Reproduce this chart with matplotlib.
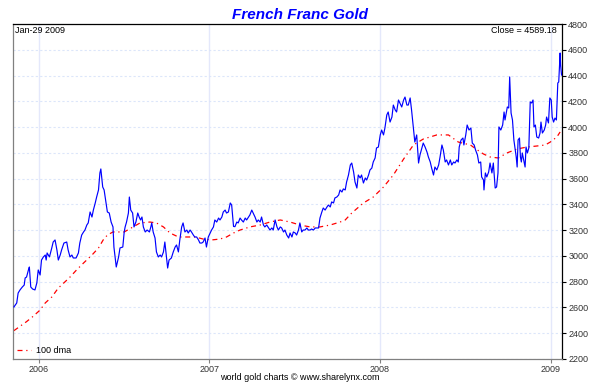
import pandas as pd
import matplotlib
matplotlib.use('Agg')
import matplotlib.pyplot as plt
import matplotlib.dates as mdates

plt.rcParams['font.family'] = ['Liberation Sans', 'DejaVu Sans']

# gold price in French Francs, days counted from the chart start
start = pd.Timestamp('2005-11-07')
price_days = [
    2, 8, 11, 15, 20, 24, 26, 29, 33, 35, 38, 42, 47, 51, 54, 58, 61, 65, 69, 71,
    73, 78, 83, 86, 90, 94, 97, 101, 104, 109, 115, 118, 122, 126, 129, 135, 140, 143, 147, 151,
    154, 158, 161, 165, 169, 172, 176, 179, 183, 186, 188, 192, 195, 199, 202, 206, 210, 214, 216, 221,
    226, 229, 235, 238, 240, 243, 247, 249, 252, 256, 259, 263, 267, 270, 273, 276, 279, 283, 287, 292,
    295, 297, 300, 304, 307, 311, 315, 318, 322, 325, 329, 331, 334, 339, 343, 347, 350, 354, 357, 361,
    364, 368, 372, 375, 379, 382, 386, 389, 393, 397, 400, 404, 407, 411, 414, 418, 422, 425, 429, 432,
    436, 440, 443, 447, 450, 454, 457, 461, 465, 468, 472, 475, 479, 482, 486, 489, 493, 497, 500, 504,
    507, 511, 514, 518, 522, 525, 529, 532, 536, 539, 543, 547, 550, 554, 557, 561, 565, 568, 572, 575,
    579, 582, 586, 590, 593, 597, 600, 604, 607, 611, 614, 618, 621, 625, 629, 632, 636, 639, 643, 647,
    650, 654, 657, 661, 664, 668, 672, 675, 679, 682, 686, 689, 693, 697, 700, 704, 707, 711, 714, 718,
    722, 725, 729, 732, 736, 739, 743, 746, 750, 754, 757, 761, 764, 768, 771, 775, 778, 782, 786, 789,
    793, 796, 800, 803, 807, 811, 814, 818, 821, 825, 828, 832, 836, 839, 843, 846, 850, 853, 857, 860,
    864, 868, 871, 875, 878, 882, 886, 889, 893, 896, 900, 903, 907, 911, 914, 918, 921, 925, 928, 932,
    936, 939, 943, 946, 950, 953, 955, 959, 963, 965, 969, 972, 976, 980, 983, 987, 990, 994, 997, 1001,
    1003, 1007, 1008, 1011, 1014, 1018, 1021, 1025, 1028, 1032, 1035, 1038, 1040, 1044, 1048, 1051, 1053, 1056, 1058, 1061,
    1063, 1066, 1069, 1072, 1075, 1077, 1079, 1081, 1084, 1086, 1088, 1090, 1093, 1096, 1098, 1101, 1104, 1107, 1110, 1113,
    1115, 1118, 1121, 1125, 1128, 1130, 1133, 1137, 1140, 1142, 1146, 1149, 1152, 1154, 1157, 1160, 1163, 1166, 1168, 1171,
    1172, 1174,
]
price = [
    2604, 2635, 2712, 2736, 2759, 2774, 2829, 2836, 2891, 2914, 2759, 2743, 2736, 2790, 2891, 2852, 2968, 2992, 3007, 2968,
    3023, 2992, 3062, 3108, 3124, 3046, 2968, 3007, 3046, 3100, 3108, 3046, 2992, 3007, 2984, 2984, 3023, 3100, 3162, 3186,
    3201, 3240, 3256, 3341, 3302, 3356, 3411, 3457, 3512, 3644, 3675, 3535, 3512, 3411, 3341, 3333, 3263, 3225, 3069, 2914,
    2992, 3062, 3069, 3186, 3225, 3263, 3333, 3457, 3356, 3333, 3225, 3263, 3333, 3302, 3279, 3302, 3225, 3186, 3201, 3186,
    3225, 3256, 3186, 3139, 3031, 2992, 3007, 2992, 3031, 3108, 2968, 2906, 2968, 2984, 3031, 3069, 3085, 3031, 3124, 3225,
    3256, 3186, 3201, 3178, 3201, 3186, 3162, 3147, 3147, 3124, 3100, 3100, 3108, 3139, 3069, 3147, 3178, 3201, 3225, 3279,
    3263, 3294, 3279, 3302, 3341, 3356, 3333, 3341, 3411, 3395, 3229, 3227, 3263, 3256, 3294, 3279, 3263, 3294, 3279, 3302,
    3318, 3356, 3333, 3302, 3263, 3279, 3263, 3302, 3240, 3225, 3240, 3217, 3201, 3217, 3201, 3279, 3225, 3201, 3225, 3217,
    3186, 3201, 3162, 3139, 3178, 3147, 3186, 3178, 3162, 3201, 3256, 3186, 3201, 3201, 3217, 3201, 3201, 3209, 3201, 3217,
    3217, 3217, 3294, 3341, 3372, 3356, 3380, 3395, 3380, 3419, 3411, 3450, 3457, 3473, 3512, 3496, 3520, 3512, 3574, 3628,
    3706, 3721, 3651, 3574, 3527, 3628, 3605, 3628, 3566, 3605, 3589, 3628, 3667, 3682, 3729, 3760, 3838, 3845, 3939, 3977,
    3939, 3993, 4094, 4117, 4039, 4078, 4171, 4133, 4117, 4210, 4187, 4156, 4210, 4233, 4171, 4171, 4226, 4133, 3993, 3884,
    3939, 3721, 3783, 3838, 3876, 3845, 3807, 3768, 3729, 3682, 3628, 3690, 3667, 3706, 3768, 3861, 3822, 3729, 3745, 3706,
    3745, 3706, 3729, 3721, 3745, 3729, 3845, 3900, 3915, 3861, 3939, 4016, 3977, 3993, 3876, 3861, 3822, 3783, 3721, 3729,
    3613, 3589, 3512, 3644, 3613, 3651, 3721, 3644, 3721, 3527, 3535, 3644, 4001, 3977, 4016, 4117, 4055, 4117, 4156, 4148,
    4389, 4109, 4055, 3900, 3822, 3768, 3690, 3900, 3915, 3768, 3729, 3799, 3745, 3690, 3845, 3799, 3838, 4195, 4187, 4210,
    4001, 4016, 3923, 3915, 3954, 4039, 3954, 3977, 4016, 4078, 4032, 4226, 4210, 4078, 4039, 4070, 4055, 4342, 4350, 4575,
    4482, 4404,
]

# 100 day moving average
dma_days = [
    2, 29, 42, 58, 69, 83, 97, 111, 122, 136, 151, 169, 183, 193, 202, 214, 226, 238, 257, 272,
    293, 307, 322, 336, 354, 372, 390, 407, 425, 443, 457, 472, 486, 507, 529, 550, 572, 593, 614, 636,
    657, 679, 700, 711, 725, 750, 771, 793, 814, 836, 857, 878, 907, 932, 953, 979, 994, 1007, 1021, 1039,
    1057, 1079, 1100, 1121, 1139, 1150, 1164, 1171,
]
dma = [
    2420, 2490, 2528, 2580, 2635, 2681, 2751, 2798, 2836, 2891, 2945, 3007, 3062, 3124, 3162, 3186, 3186, 3186, 3225, 3256,
    3263, 3256, 3225, 3178, 3147, 3147, 3147, 3131, 3124, 3131, 3147, 3178, 3201, 3225, 3240, 3263, 3279, 3263, 3240, 3225,
    3225, 3240, 3263, 3279, 3333, 3411, 3457, 3535, 3628, 3752, 3861, 3907, 3939, 3939, 3884, 3861, 3822, 3791, 3768, 3760,
    3799, 3830, 3845, 3853, 3861, 3884, 3923, 3962,
]

y_ticks = list(range(2200, 4801, 200))
year_ticks = ['2006', '2007', '2008', '2009']

price_dates = start + pd.to_timedelta(price_days, unit='D')
dma_dates = start + pd.to_timedelta(dma_days, unit='D')

fig = plt.figure(figsize=(6, 3.9), dpi=100)
ax = fig.add_axes([13 / 600, 1 - 359 / 390, 549 / 600, 335 / 390])

ax.plot(price_dates, price, color='#0000ff', lw=0.85, zorder=3)
ax.plot(dma_dates, dma, color='#ff0000', lw=0.9, dashes=(4, 3, 1, 3), zorder=2,
        label='100 dma')

ax.set_xlim(start, start + pd.Timedelta(days=1175))
ax.set_ylim(2200, 4800)

# grid
ax.set_yticks(y_ticks)
ax.set_xticks([pd.Timestamp(y + '-01-01') for y in year_ticks])
ax.set_xticklabels(year_ticks)
ax.grid(axis='y', color='#dce6fa', lw=0.8, ls=(0, (2, 2)))
ax.grid(axis='x', color='#e4e8fb', lw=1.0, ls='-')

# axes look
ax.yaxis.tick_right()
ax.tick_params(axis='y', direction='out', length=3, width=0.8, labelsize=6.5,
               pad=1.5, colors='black')
ax.tick_params(axis='x', direction='out', length=3, width=0.8, labelsize=6.5,
               pad=1.5, color='#808080')
for lab in ax.get_yticklabels() + ax.get_xticklabels():
    lab.set_color('#333333')
ax.spines['left'].set_color('#808080')
ax.spines['bottom'].set_color('#808080')
ax.spines['top'].set_color('black')
ax.spines['right'].set_color('black')
for s in ax.spines.values():
    s.set_linewidth(0.9)

# texts
fig.text(0.5, 1 - 15 / 390, 'French Franc Gold', color='#0000ff', fontsize=11,
         fontweight='bold', fontstyle='italic', ha='center', va='center')
ax.text(0.004, 0.995, 'Jan-29 2009', transform=ax.transAxes, fontsize=6.5,
        ha='left', va='top')
ax.text(0.99, 0.995, 'Close = 4589.18', transform=ax.transAxes, fontsize=6.5,
        ha='right', va='top')
fig.text(0.5, 1 - 378 / 390, 'world gold charts \u00a9 www.sharelynx.com',
         fontsize=6.5, ha='center', va='center')

leg = ax.legend(loc='lower left', frameon=False, fontsize=6.5, handlelength=1.6,
                handletextpad=0.5, borderaxespad=0.1, borderpad=0.3)

fig.savefig('out.png', dpi=100)
